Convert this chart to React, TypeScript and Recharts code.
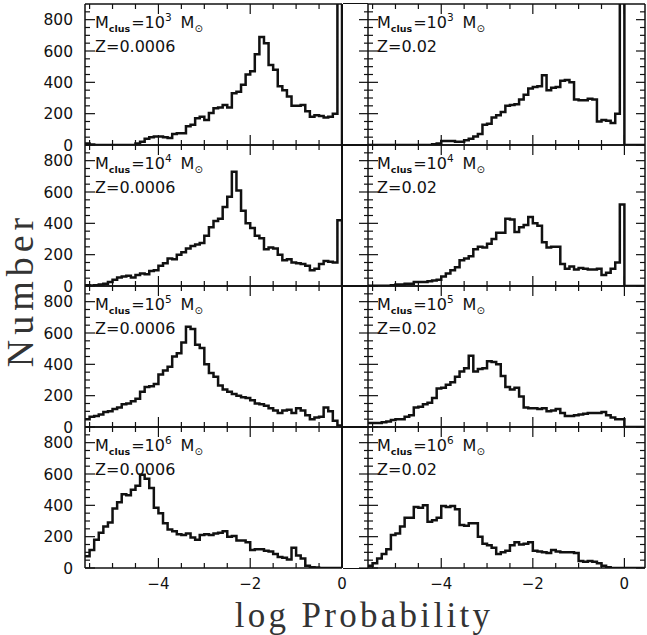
import { LineChart, Line, XAxis, YAxis } from "recharts";

// histogram bins: 0.1 dex wide, starting at log P = -5.6
const LOG_MIN = -5.6;
const BIN_WIDTH = 0.1;
const BIN_STARTS = Array.from({ length: 56 }, (_, i) => Math.round((LOG_MIN + i * BIN_WIDTH) * 10) / 10);

// counts per bin
const M3_Z0006 = [
  10, 3, 0, 0, 0, 0, 0, 0, 0, 0, 0, 10, 20, 40, 50, 55, 55, 50, 45, 70,
  75, 75, 120, 130, 170, 180, 160, 205, 235, 240, 255, 240, 330, 340, 385, 450, 470, 580, 690, 650,
  510, 480, 375, 350, 310, 250, 250, 255, 215, 180, 190, 185, 175, 180, 200, 1000,
];
const M3_Z02 = [
  0, 0, 0, 0, 0, 0, 0, 0, 0, 0, 0, 0, 0, 0, 5, 10, 25, 25, 25, 20,
  20, 30, 40, 55, 70, 130, 135, 175, 190, 210, 250, 255, 260, 290, 320, 360, 370, 375, 445, 350,
  365, 370, 410, 415, 400, 290, 285, 285, 295, 290, 150, 160, 155, 140, 200, 1000,
];
const M4_Z0006 = [
  5, 3, 5, 10, 15, 25, 40, 55, 60, 65, 55, 70, 80, 75, 95, 100, 130, 145, 175, 170,
  200, 215, 240, 255, 265, 275, 320, 375, 415, 430, 505, 570, 730, 610, 480, 400, 370, 320, 305, 235,
  245, 240, 200, 165, 170, 150, 145, 140, 130, 100, 110, 140, 160, 155, 150, 420,
];
const M4_Z02 = [
  2, 2, 2, 2, 2, 5, 10, 10, 15, 15, 25, 25, 25, 30, 35, 40, 60, 80, 100, 120,
  165, 175, 190, 235, 250, 245, 270, 300, 340, 340, 430, 425, 345, 375, 390, 440, 400, 385, 280, 245,
  250, 250, 140, 110, 125, 105, 115, 110, 105, 105, 110, 70, 85, 110, 150, 520,
];
const M5_Z0006 = [
  50, 65, 70, 80, 95, 100, 115, 125, 145, 150, 165, 180, 225, 255, 260, 275, 335, 360, 385, 450,
  470, 540, 640, 625, 525, 505, 400, 345, 320, 265, 240, 225, 210, 200, 190, 185, 170, 150, 145, 135,
  120, 105, 90, 105, 110, 90, 120, 105, 75, 50, 60, 65, 125, 100, 40, 10,
];
const M5_Z02 = [
  25, 25, 25, 30, 35, 45, 50, 50, 65, 75, 125, 130, 145, 155, 185, 245, 250, 270, 285, 320,
  355, 375, 455, 355, 370, 375, 420, 415, 400, 325, 255, 240, 250, 195, 125, 120, 120, 115, 120, 100,
  105, 115, 90, 70, 70, 75, 80, 85, 90, 90, 90, 95, 75, 60, 50, 50,
];
const M6_Z0006 = [
  75, 115, 180, 225, 265, 290, 380, 420, 470, 465, 500, 525, 595, 570, 510, 385, 350, 285, 245, 235,
  215, 210, 220, 195, 180, 210, 215, 210, 220, 225, 235, 200, 205, 175, 175, 165, 115, 120, 120, 110,
  105, 90, 70, 65, 55, 130, 80, 60, 15, 5, 3, 0, 0, 0, 0, 0,
];
const M6_Z02 = [
  15, 30, 60, 90, 120, 210, 220, 265, 320, 320, 390, 385, 400, 295, 305, 320, 395, 390, 395, 375,
  275, 270, 285, 285, 200, 155, 145, 130, 90, 100, 110, 145, 165, 150, 155, 165, 110, 105, 100, 95,
  115, 105, 100, 100, 100, 95, 45, 40, 45, 40, 30, 15, 5, 0, 0, 0,
];

const MASS_EXP = ["3", "4", "5", "6"];
const METALLICITY = ["0.0006", "0.02"];
const COUNTS = [
  [M3_Z0006, M3_Z02],
  [M4_Z0006, M4_Z02],
  [M5_Z0006, M5_Z02],
  [M6_Z0006, M6_Z02],
];

const X_TICKS = [-5.5, -5, -4.5, -4, -3.5, -3, -2.5, -2, -1.5, -1, -0.5, 0];
const X_LABELS = [-4, -2, 0];
const Y_TICKS = [0, 50, 100, 150, 200, 250, 300, 350, 400, 450, 500, 550, 600, 650, 700, 750, 800, 850];
const Y_LABELS = [0, 200, 400, 600, 800];

const INK = "#111";
const ROW_TOP = [4, 145, 286, 427];
const ROW_H = 141;
const TICK_FONT = "DejaVu Sans";

const fmtX = (v: number) => (v < 0 ? "\u2212" + -v : String(v));

const bottomTick = (withLabel: boolean) => (p: any) => {
  const v = p.payload.value;
  const major = X_LABELS.includes(v);
  return (
    <g>
      <line x1={p.x} x2={p.x} y1={p.y} y2={p.y - (major ? 10 : 5)} stroke={INK} strokeWidth={1.2} />
      {withLabel && major && (
        <text x={p.x} y={p.y + 21} textAnchor="middle" fontFamily={TICK_FONT} fontSize={15} fill={INK}>
          {fmtX(v)}
        </text>
      )}
    </g>
  );
};

const topTick = (p: any) => {
  const major = X_LABELS.includes(p.payload.value);
  return <line x1={p.x} x2={p.x} y1={p.y} y2={p.y + (major ? 10 : 5)} stroke={INK} strokeWidth={1.2} />;
};

const leftTick = (both: boolean, withLabel: boolean) => (p: any) => {
  const v = p.payload.value;
  const major = Y_LABELS.includes(v);
  const len = major ? 10 : 5;
  return (
    <g>
      <line x1={both ? p.x - len + 1 : p.x} x2={p.x + len} y1={p.y} y2={p.y} stroke={INK} strokeWidth={1.2} />
      {withLabel && major && (
        <text x={p.x - 12} y={p.y + 5.5} textAnchor="end" fontFamily={TICK_FONT} fontSize={15.5} fill={INK}>
          {v}
        </text>
      )}
    </g>
  );
};

const rightTick = (p: any) => {
  const len = Y_LABELS.includes(p.payload.value) ? 9 : 5;
  return <line x1={p.x} x2={p.x - len} y1={p.y} y2={p.y} stroke={INK} strokeWidth={1.2} />;
};

function Panel({ row, col }: { row: number; col: number }) {
  const left = col === 0;
  const last = row === 3;
  const xMax = left ? 0 : 0.45;
  const counts = COUNTS[row][col];
  const data = BIN_STARTS.map((x, i) => ({ x, n: counts[i] }));
  data.push({ x: 0, n: 0 });
  if (!left) data.push({ x: xMax, n: 0 });

  const yW = left ? 55 : 25;
  const plotW = left ? 258 : 278;
  // x axes get 1px of height each so they render
  const margin = { top: 2, right: left ? 12 : 1, bottom: last ? 30 : 8, left: 0 };
  const axisLine = { stroke: INK, strokeWidth: 1.5 };

  return (
    <div style={{ position: "absolute", left: left ? 30 : 343, top: ROW_TOP[row] - 3 }}>
      <LineChart
        width={yW + plotW + margin.right}
        height={ROW_H + 2 + margin.top + margin.bottom}
        data={data}
        margin={margin}
      >
        <XAxis
          xAxisId="b"
          dataKey="x"
          type="number"
          domain={[LOG_MIN, xMax]}
          allowDataOverflow
          ticks={X_TICKS}
          interval={0}
          height={1}
          tickSize={0}
          tickMargin={0}
          tickLine={false}
          axisLine={axisLine}
          tick={bottomTick(last)}
        />
        <XAxis
          xAxisId="t"
          orientation="top"
          dataKey="x"
          type="number"
          domain={[LOG_MIN, xMax]}
          allowDataOverflow
          ticks={X_TICKS}
          interval={0}
          height={1}
          tickSize={0}
          tickMargin={0}
          tickLine={false}
          axisLine={axisLine}
          tick={topTick}
        />
        <YAxis
          yAxisId="l"
          type="number"
          domain={[0, 900]}
          allowDataOverflow
          ticks={Y_TICKS}
          interval={0}
          width={yW}
          tickSize={0}
          tickMargin={0}
          tickLine={false}
          axisLine={axisLine}
          tick={leftTick(!left, left)}
        />
        <YAxis
          yAxisId="r"
          orientation="right"
          type="number"
          domain={[0, 900]}
          allowDataOverflow
          ticks={Y_TICKS}
          interval={0}
          width={1}
          tickSize={0}
          tickMargin={0}
          tickLine={false}
          axisLine={{ stroke: INK, strokeWidth: left ? 2 : 1.5 }}
          tick={left ? false : rightTick}
        />
        <Line
          xAxisId="b"
          yAxisId="l"
          type="stepAfter"
          dataKey="n"
          stroke={INK}
          strokeWidth={2.5}
          strokeLinejoin="miter"
          dot={false}
          activeDot={false}
          isAnimationActive={false}
        />
      </LineChart>
    </div>
  );
}

function Annotation({ row, col }: { row: number; col: number }) {
  const x = col === 0 ? 95 : 377;
  const y = ROW_TOP[row] + 24;
  return (
    <g fontFamily={TICK_FONT} fill={INK}>
      <text x={x} y={y} fontSize={16}>
        <tspan>M</tspan>
        <tspan fontSize={9.5} fontWeight="bold" dy={4}>clus</tspan>
        <tspan dy={-4} dx={1}>=10</tspan>
        <tspan fontSize={10.5} dy={-7}>{MASS_EXP[row]}</tspan>
        <tspan dy={7} dx={9}>M</tspan>
        <tspan fontSize={10} dy={4}>{"\u2299"}</tspan>
      </text>
      <text x={x} y={y + 24} fontSize={16}>
        Z={METALLICITY[col]}
      </text>
    </g>
  );
}

export default function App() {
  const cells: { row: number; col: number }[] = [];
  for (let row = 0; row < 4; row++) for (let col = 0; col < 2; col++) cells.push({ row, col });

  return (
    <div style={{ position: "absolute", left: 0, top: 0, width: 647, height: 635, overflow: "hidden", background: "#fff" }}>
      {cells.map((c) => (
        <Panel key={`${c.row}-${c.col}`} row={c.row} col={c.col} />
      ))}
      {ROW_TOP.map((t, i) => (
        <div
          key={i}
          style={{
            position: "absolute",
            left: 343,
            top: t - 0.75,
            width: 25,
            height: ROW_H + 1.5,
            borderTop: `1.5px solid ${INK}`,
            borderBottom: `1.5px solid ${INK}`,
            boxSizing: "border-box",
          }}
        />
      ))}
      <svg width={647} height={635} style={{ position: "absolute", left: 0, top: 0, pointerEvents: "none" }}>
        {cells.map((c) => (
          <Annotation key={`a-${c.row}-${c.col}`} row={c.row} col={c.col} />
        ))}
        <text
          x={33}
          y={290}
          transform="rotate(-90 33 290)"
          textAnchor="middle"
          fontFamily="Liberation Serif"
          fontSize={38}
          letterSpacing={5}
          fill="#333"
        >
          Number
        </text>
        <text
          x={364}
          y={627}
          textAnchor="middle"
          fontFamily="Liberation Serif"
          fontSize={35}
          letterSpacing={3.3}
          fill="#333"
        >
          log Probability
        </text>
      </svg>
    </div>
  );
}
